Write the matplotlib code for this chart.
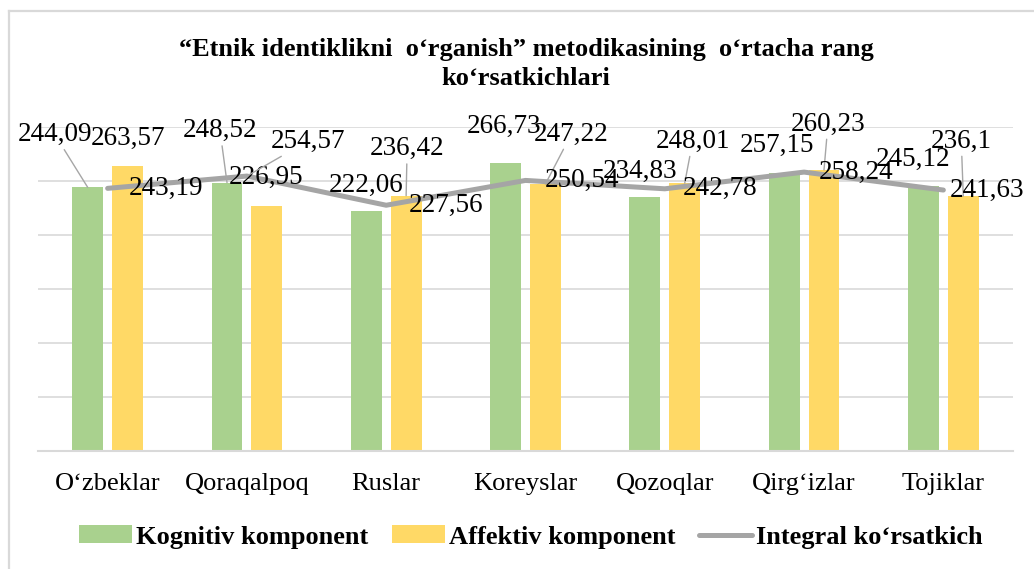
import numpy as np
import matplotlib.pyplot as plt
from matplotlib.lines import Line2D

plt.rcParams['font.family'] = ['Liberation Serif', 'DejaVu Serif']

categories = ['O‘zbeklar', 'Qoraqalpoq', 'Ruslar', 'Koreyslar',
              'Qozoqlar', 'Qirg‘izlar', 'Tojiklar']
kognitiv = [244.09, 248.52, 222.06, 266.73, 234.83, 257.15, 245.12]
affektiv = [263.57, 226.95, 236.42, 247.22, 248.01, 260.23, 236.10]
integral = [243.19, 254.57, 227.56, 250.54, 242.78, 258.24, 241.63]
series_names = ['Kognitiv komponent', 'Affektiv komponent', 'Integral ko‘rsatkich']
title = '“Etnik identiklikni  o‘rganish” metodikasining  o‘rtacha rang\nko‘rsatkichlari'

# label offsets in pixels (dx, dy) and whether a leader line is drawn
kog_off = [(-33, 53), (-7, 52), (0, 26), (-2, 37), (-5, 26), (-7, 28), (-10, 27)]
kog_lead = [True, True, False, False, False, False, False]
aff_off = [(0, 28), (-1, 28), (1, 47), (26, 50), (8, 42), (4, 46), (-2, 55)]
aff_lead = [False, False, True, True, True, True, True]
int_off = [(58, 0), (61, 35), (60, 0), (57, 0), (55, 0), (52, 0), (44, 0)]
int_lead = [False, True, False, False, False, False, False]

green = '#A9D18E'
yellow = '#FFD966'
gray = '#A5A5A5'

fig = plt.figure(figsize=(10.34, 5.69), dpi=100)
ax = fig.add_axes([38 / 1034, 1 - 451 / 569, 975 / 1034, 324 / 569])

x = np.arange(len(categories))
w = 0.222
off = 0.143
b1 = ax.bar(x - off, kognitiv, w, color=green, zorder=2, label=series_names[0])
b2 = ax.bar(x + off, affektiv, w, color=yellow, zorder=2, label=series_names[1])
l1, = ax.plot(x, integral, color=gray, lw=3.6, zorder=3, solid_capstyle='round',
              label=series_names[2])

ax.set_xlim(-0.5, len(categories) - 0.5)
ax.set_ylim(0, 300)
ax.set_yticks(np.arange(0, 301, 50))
ax.yaxis.grid(True, color='#D9D9D9', lw=1.2, zorder=0)
ax.tick_params(axis='y', left=False, labelleft=False)
ax.tick_params(axis='x', length=0, pad=16, labelsize=19)
ax.set_xticks(x)
ax.set_xticklabels(categories)
for s in ['top', 'right', 'left']:
    ax.spines[s].set_visible(False)
ax.spines['bottom'].set_color('#D9D9D9')
ax.spines['bottom'].set_linewidth(1.5)


def fmt(v):
    s = ('%.2f' % v).rstrip('0').rstrip('.')
    return s.replace('.', ',')


def labels(xs, vals, offs, leads):
    for xi, v, (dx, dy), lead in zip(xs, vals, offs, leads):
        props = None
        if lead:
            props = dict(arrowstyle='-', color='#A6A6A6', lw=1,
                         shrinkA=0, shrinkB=0)
        ax.annotate(fmt(v), (xi, v), xytext=(dx, dy),
                    textcoords='offset pixels', ha='center', va='center',
                    fontsize=19.5, color='black', zorder=5, arrowprops=props,
                    annotation_clip=False)


labels(x - off, kognitiv, kog_off, kog_lead)
labels(x + off, affektiv, aff_off, aff_lead)
labels(x, integral, int_off, int_lead)

fig.text(526 / 1034, 1 - 64 / 569, title, ha='center', va='center',
         fontsize=19, fontweight='bold', linespacing=1.3)

leg = fig.legend([b1, b2, l1], series_names, loc='center',
                 bbox_to_anchor=(531 / 1034, 1 - 537 / 569),
                 ncol=3, frameon=False, handlelength=2.0, handleheight=0.65,
                 handletextpad=0.15, columnspacing=0.9,
                 prop={'size': 19, 'weight': 'bold'})

# chart area border (top and left edges only visible)
fig.add_artist(Line2D([9 / 1034, 1], [1 - 11 / 569, 1 - 11 / 569],
                      color='#D9D9D9', lw=1.6, transform=fig.transFigure))
fig.add_artist(Line2D([9 / 1034, 9 / 1034], [0, 1 - 11 / 569],
                      color='#D9D9D9', lw=1.6, transform=fig.transFigure))

fig.savefig('out.png', dpi=100)
